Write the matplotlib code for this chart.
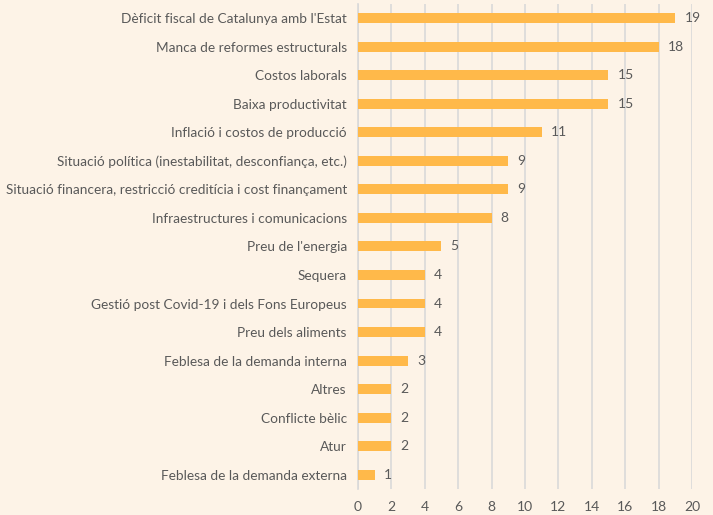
import matplotlib.pyplot as plt

labels = ["Dèficit fiscal de Catalunya amb l'Estat",
          "Manca de reformes estructurals",
          "Costos laborals",
          "Baixa productivitat",
          "Inflació i costos de producció",
          "Situació política (inestabilitat, desconfiança, etc.)",
          "Situació financera, restricció creditícia i cost finançament",
          "Infraestructures i comunicacions",
          "Preu de l'energia",
          "Sequera",
          "Gestió post Covid-19 i dels Fons Europeus",
          "Preu dels aliments",
          "Feblesa de la demanda interna",
          "Altres",
          "Conflicte bèlic",
          "Atur",
          "Feblesa de la demanda externa"]
values = [19, 18, 15, 15, 11, 9, 9, 8, 5, 4, 4, 4, 3, 2, 2, 2, 1]

bg = '#FDF3E7'
txt = '#595959'
plt.rcParams['font.family'] = ['Lato', 'DejaVu Sans']

fig = plt.figure(figsize=(7.13, 5.15), dpi=100, facecolor=bg)
ax = fig.add_axes([0.502, 0.0505, 0.4685, 0.942], facecolor=bg)

y = list(range(len(labels)))[::-1]
ax.barh(y, values, height=0.35, color='#FFB94A', zorder=3)
for yi, v in zip(y, values):
    ax.text(v + 0.55, yi, str(v), va='center', ha='left', fontsize=10, color=txt)

ax.set_yticks(y)
ax.set_yticklabels(labels, fontsize=9.8, color=txt)
ax.set_ylim(-0.5, len(labels) - 0.5)
ax.set_xlim(0, 20)
ax.set_xticks(range(0, 21, 2))
ax.tick_params(axis='x', labelsize=10, colors=txt, length=0, pad=9)
ax.tick_params(axis='y', length=0, pad=8)
ax.grid(axis='x', color='#D9D9D9', linewidth=1.2, zorder=0)
for s in ['top', 'right', 'bottom']:
    ax.spines[s].set_visible(False)
ax.spines['left'].set_color('#D9D9D9')
ax.spines['left'].set_linewidth(1.2)

fig.savefig('out.png', dpi=100, facecolor=bg)
